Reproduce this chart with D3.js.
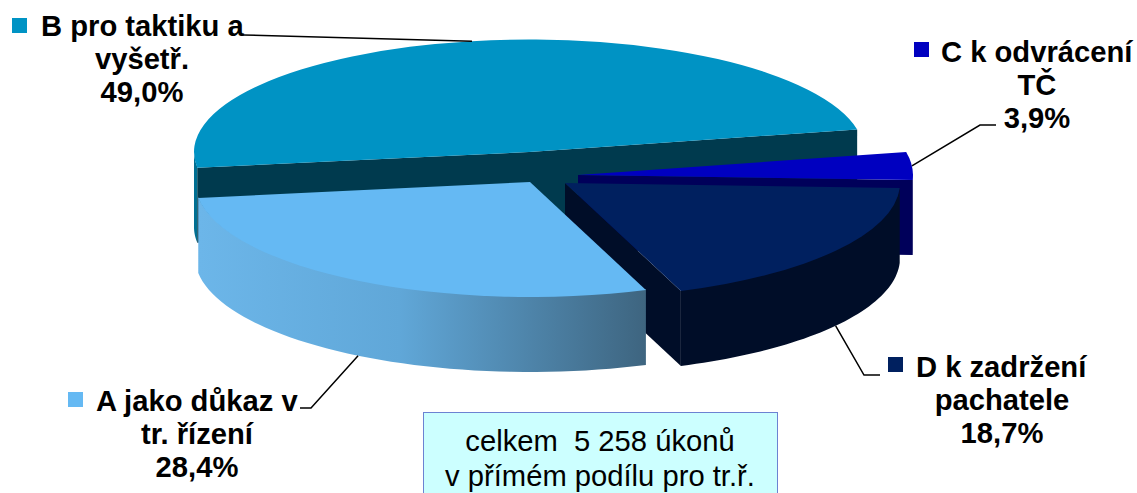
<!DOCTYPE html>
<html><head><meta charset="utf-8">
<script src="https://cdn.jsdelivr.net/npm/d3@7"></script>
<style>html,body{margin:0;padding:0;background:#fff;overflow:hidden}svg{display:block}text{font-family:"Liberation Sans",Arial,sans-serif}</style>
</head><body><svg id="c" width="1137" height="493"></svg>
<script>
const categories = ["B pro taktiku a vyšetř.", "C k odvrácení TČ", "D k zadržení pachatele", "A jako důkaz v tr. řízení"];
const shares = [49.0, 3.9, 18.7, 28.4];
const shareLabels = ["49,0%", "3,9%", "18,7%", "28,4%"];
const labelLines = [["B pro taktiku a", "vyšetř."], ["C k odvrácení", "TČ"], ["D k zadržení", "pachatele"], ["A jako důkaz v", "tr. řízení"]];
const boxLines = ["celkem  5 258 úkonů", "v přímém podílu pro tr.ř."];

// layout and style, per slice in the same order
const centres = [[529,152],[578,175],[565,183],[530,182]];
const radii = [335,335,335,335];
const radiiY = [112.5,115,115,115];
const topFill = ["#0093C4","#0000C0","#00205F","#65B9F3"];
const wallFill = ["#003A4E","#00005A","#000D28","#3E6580"];
const labelPos = [
  {sq:[12,18], x:41, y:36, mid:142, elbow:[243,35], end:[243,35]},
  {sq:[914,42], x:941, y:62, mid:1037, elbow:[980,125], end:[996,125]},
  {sq:[888,357], x:916, y:377, mid:1002, elbow:[864,375], end:[880,375]},
  {sq:[68,392], x:96, y:411, mid:197, elbow:[311,408], end:[300,408]}
];
const depth = 75, lineGap = 33, fontPx = 29.2;

const svg = d3.select("#c");
const rad = d => d*Math.PI/180;
const pie = d3.pie().sort(null).startAngle(rad(262)).endAngle(rad(622));
const arcs = pie(shares).map(a => {
  const shift = a.startAngle >= rad(360) ? rad(360) : 0;
  return {...a, startAngle:a.startAngle-shift, endAngle:a.endAngle-shift};
});
const arcGen = d3.arc().innerRadius(0);
const X = (i,t) => centres[i][0] + radii[i]*Math.sin(t);
const Y = (i,t,dy=0) => centres[i][1] - radiiY[i]*Math.cos(t) + dy;

const grad = svg.append("defs").append("linearGradient").attr("id","aw")
  .attr("gradientUnits","userSpaceOnUse").attr("x1",199).attr("x2",645).attr("y1",0).attr("y2",0);
grad.append("stop").attr("offset",0).attr("stop-color","#6CB6E9");
grad.append("stop").attr("offset",0.45).attr("stop-color","#60A7D8");
grad.append("stop").attr("offset",1).attr("stop-color","#3E6580");

const line = d3.line();
function outerWall(i){
  const a = Math.max(arcs[i].startAngle, rad(90)), b = Math.min(arcs[i].endAngle, rad(270));
  if (a >= b) return null;
  const ts = d3.range(0,49).map(k => a + (b-a)*k/48);
  const pts = ts.map(t => [X(i,t),Y(i,t,-1)]).concat(ts.slice().reverse().map(t => [X(i,t),Y(i,t,depth)]));
  return line(pts)+"Z";
}
function radialWall(i,t){
  const [cx,cy] = centres[i];
  return line([[cx,cy],[X(i,t),Y(i,t)],[X(i,t),Y(i,t,depth)],[cx,cy+depth]])+"Z";
}
const drawOrder = [0,1,2,3];
const wallColour = i => i===3 ? "url(#aw)" : wallFill[i];
drawOrder.forEach(i => {
  const g = svg.append("g");
  const ow = outerWall(i);
  if (i===0) g.append("path").attr("d",ow).attr("fill","#006F92");
  if (i===0) { g.append("path").attr("d",radialWall(i,arcs[i].startAngle)).attr("fill",wallFill[i]);
               g.append("path").attr("d",radialWall(i,arcs[i].endAngle)).attr("fill",wallFill[i]); }
  if (i===1) { g.append("path").attr("d",radialWall(i,arcs[i].endAngle)).attr("fill",wallFill[i]); }
  if (i===2) { g.append("path").attr("d",radialWall(i,arcs[i].endAngle)).attr("fill",wallFill[i]); }
  if (i!==0 && ow) g.append("path").attr("d",ow).attr("fill",wallColour(i));
  g.append("path").attr("d",arcGen.outerRadius(radii[i])(arcs[i]))
    .attr("transform",`translate(${centres[i]}) scale(1,${radiiY[i]/radii[i]})`).attr("fill",topFill[i]);
});

// leaders
labelPos.forEach((p,i) => {
  const m = (arcs[i].startAngle+arcs[i].endAngle)/2;
  const onWall = m>rad(90) && m<rad(270) && i!==0;
  svg.append("path").attr("fill","none").attr("stroke","#000").attr("stroke-width",1.5)
    .attr("d",line([[X(i,m),Y(i,m,onWall?depth:0)],p.elbow,p.end]));
});

// labels
categories.forEach((c,i) => {
  const p = labelPos[i];
  svg.append("rect").attr("x",p.sq[0]).attr("y",p.sq[1]).attr("width",15).attr("height",15).attr("fill",topFill[i]);
  const t = svg.append("g").attr("font-weight","bold").attr("font-size",fontPx).attr("fill","#000");
  t.append("text").attr("x",p.x).attr("y",p.y).text(labelLines[i][0]);
  t.append("text").attr("x",p.mid).attr("y",p.y+lineGap).attr("text-anchor","middle").text(labelLines[i][1]);
  t.append("text").attr("x",p.mid).attr("y",p.y+2*lineGap).attr("text-anchor","middle").text(shareLabels[i]);
});

// note box
svg.append("rect").attr("x",423.5).attr("y",412.5).attr("width",354).attr("height",100)
  .attr("fill","#CCFFFF").attr("stroke","#6C82D2").attr("stroke-width",1);
boxLines.forEach((s,i) => {
  svg.append("text").attr("x",600).attr("y",451+i*35).attr("text-anchor","middle")
    .attr("font-size",29.2).attr("fill","#000").attr("xml:space","preserve").style("white-space","pre").text(s);
});
</script></body></html>
